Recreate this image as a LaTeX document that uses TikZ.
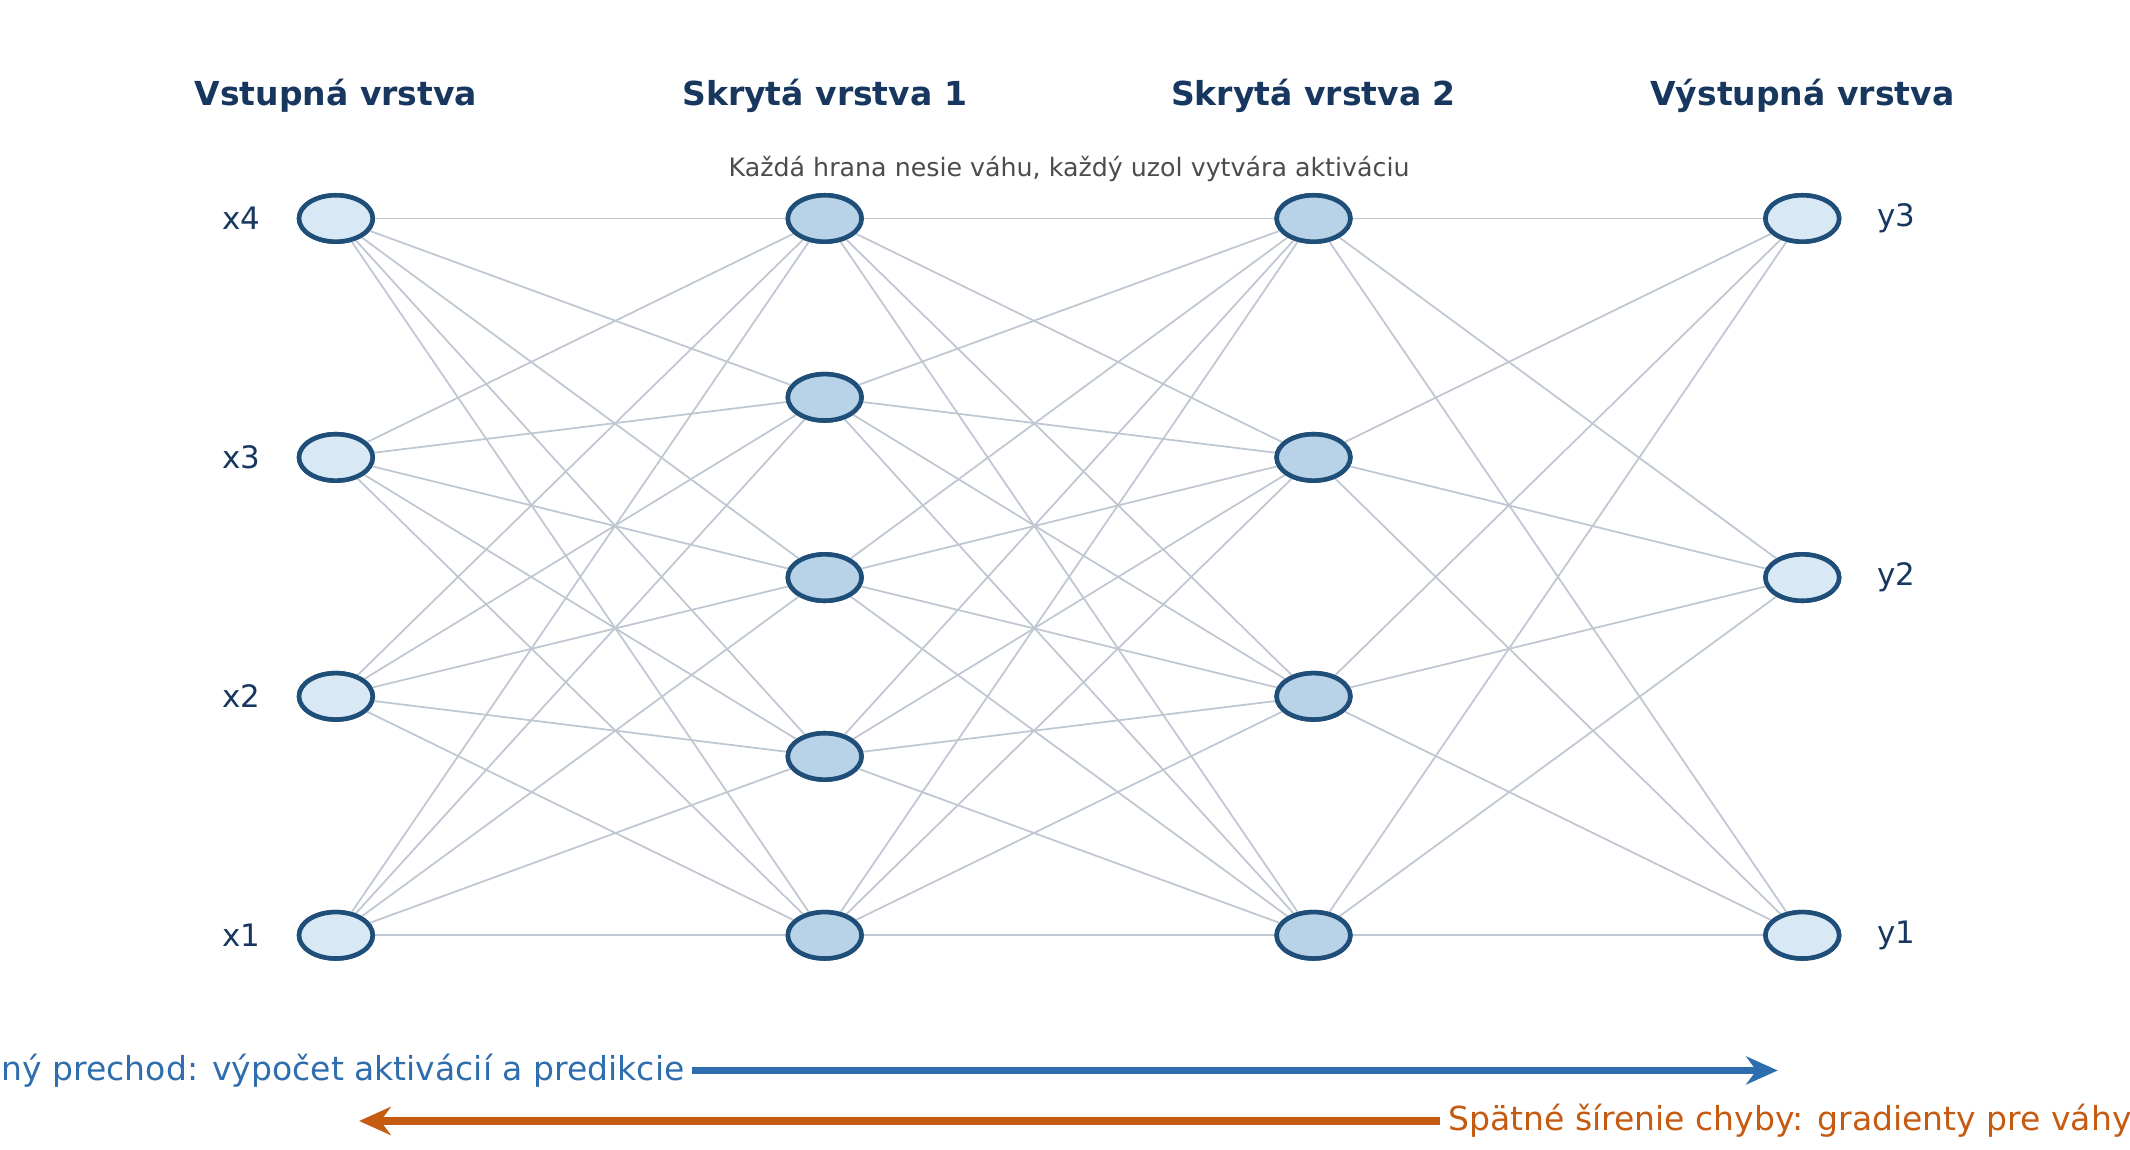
\documentclass[tikz,border=0pt]{standalone}
\usepackage{fontspec}
\setmainfont{DejaVu Sans}
\usepackage{tikz}
\usetikzlibrary{arrows.meta,shapes.geometric}
\definecolor{navy}{HTML}{17375E}
\definecolor{nodeedge}{HTML}{1F4E79}
\definecolor{infill}{HTML}{D9E8F5}
\definecolor{hidfill}{HTML}{B8D2E8}
\definecolor{wire}{HTML}{BFC7D3}
\definecolor{fwd}{HTML}{2E6DAE}
\definecolor{bwd}{HTML}{C55A11}
\tikzset{
	neuron/.style={ellipse,draw=nodeedge,line width=1.3pt,minimum width=0.737cm,minimum height=0.464cm,inner sep=0pt},
	io/.style={neuron,fill=infill},
	hid/.style={neuron,fill=hidfill},
	layer/.style={font=\bfseries\fontsize{9.4}{11}\selectfont,text=navy},
	lbl/.style={font=\fontsize{8.8}{10}\selectfont,text=navy},
	note/.style={font=\fontsize{9.4}{11}\selectfont,inner sep=2pt},
	edge/.style={draw=wire,line width=0.5pt}
}
\begin{document}
\begin{tikzpicture}[x=0.01365cm,y=-0.01365cm]
	\useasboundingbox (0,0) rectangle (1560,842);
	\node[layer] (t-in) at (246,70) {Vstupná vrstva};
	\node[layer] (t-h1) at (604,70) {Skrytá vrstva 1};
	\node[layer] (t-h2) at (962,70) {Skrytá vrstva 2};
	\node[layer] (t-out) at (1320,70) {Výstupná vrstva};
	\node[text=black!70,font=\fontsize{7.2}{9}\selectfont] (subtitle) at (783,124) {Každá hrana nesie váhu, každý uzol vytvára aktiváciu};

	\foreach \i/\y in {1/685,2/510,3/335,4/160}
		\node[io] (in-\i) at (246,\y) {};
	\foreach \i/\y in {1/685,2/554,3/423,4/291,5/160}
		\node[hid] (ha-\i) at (604,\y) {};
	\foreach \i/\y in {1/685,2/510,3/335,4/160}
		\node[hid] (hb-\i) at (962,\y) {};
	\foreach \i/\y in {1/685,2/423,3/160}
		\node[io] (out-\i) at (1320,\y) {};

	\foreach \a in {1,...,4}
		\foreach \b in {1,...,5}
			\draw[edge] (in-\a) -- (ha-\b);
	\foreach \a in {1,...,5}
		\foreach \b in {1,...,4}
			\draw[edge] (ha-\a) -- (hb-\b);
	\foreach \a in {1,...,4}
		\foreach \b in {1,...,3}
			\draw[edge] (hb-\a) -- (out-\b);

	% redraw neurons on top of the wires
	\foreach \i in {1,...,4} \node[io] at (in-\i) {};
	\foreach \i in {1,...,5} \node[hid] at (ha-\i) {};
	\foreach \i in {1,...,4} \node[hid] at (hb-\i) {};
	\foreach \i in {1,...,3} \node[io] at (out-\i) {};

	\foreach \i in {1,...,4}
		\node[lbl] (x-\i) at (177,{685-175*(\i-1)}) {x\i};
	\node[lbl] (y-1) at (1389,685) {y1};
	\node[lbl] (y-2) at (1389,423) {y2};
	\node[lbl] (y-3) at (1389,160) {y3};

	\node[note,anchor=east,text=fwd] (fwd-text) at (507,784) {Dopredný prechod: výpočet aktivácií a predikcie};
	\coordinate (fwd-end) at (1302,784);
	\draw[fwd,line width=2.2pt,-{Stealth[length=9pt,width=8pt]}] (fwd-text) -- (fwd-end);
	\node[note,anchor=west,text=bwd] (bwd-text) at (1055,821) {Spätné šírenie chyby: gradienty pre váhy a biasy};
	\coordinate (bwd-end) at (263,821);
	\draw[bwd,line width=2.2pt,-{Stealth[length=9pt,width=8pt]}] (bwd-text) -- (bwd-end);
\end{tikzpicture}
\end{document}
